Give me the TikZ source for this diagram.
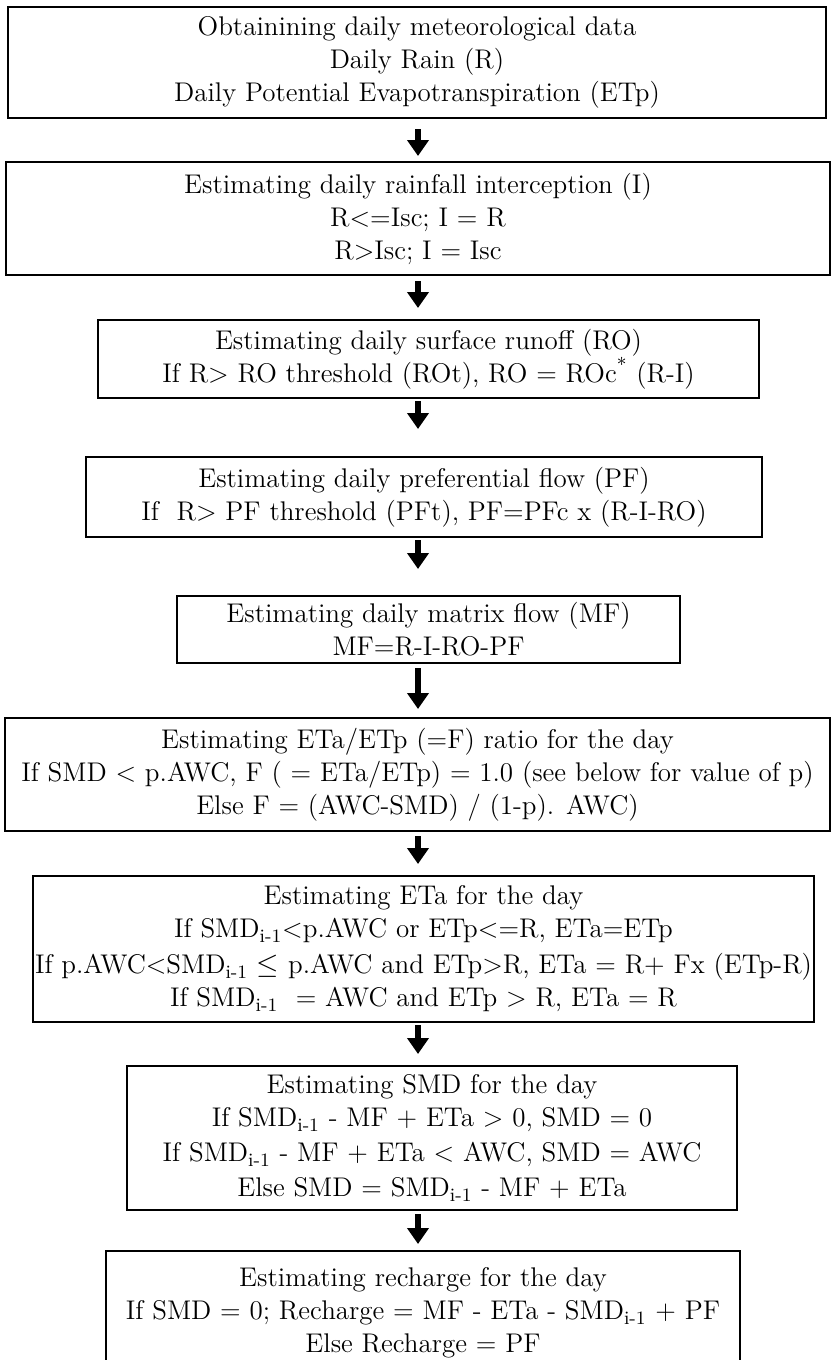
\documentclass[tikz,border=0pt]{standalone}
\usepackage{amsmath}
\usepackage{tikz}
\usetikzlibrary{arrows.meta}
\newcommand{\SMDprev}{SMD\textsubscript{i-1}}

\begin{document}
\begin{tikzpicture}[x=0.5pt, y=-0.5pt,
    stage/.style={draw, line width=1pt, align=center, inner sep=0pt,
      font=\fontsize{13.5}{16.5}\selectfont},
    flow/.style={-{Triangle[width=10.5pt,length=8pt]}, line width=3pt}]
  \useasboundingbox (0,0) rectangle (832,1360);
  \clip (0,0) rectangle (832,1360);
  \coordinate (spine) at (418,0);

  \node[stage, minimum width=409pt, minimum height=55.5pt]
    (obtain) at (417,62.5) {Obtainining daily meteorological data\\Daily Rain (R)\\Daily Potential Evapotranspiration (ETp)};

  \node[stage, minimum width=412pt, minimum height=56.5pt]
    (intercept) at (418,218.5) {Estimating daily rainfall interception (I)\\R<=Isc; I = R\\R>Isc; I = Isc};

  \node[stage, minimum width=330.5pt, minimum height=39pt]
    (runoff) at (428.5,359) {Estimating daily surface runoff (RO)\\If R> RO threshold (ROt), RO = ROc\textsuperscript{*} (R-I)};

  \node[stage, minimum width=338pt, minimum height=40pt]
    (prefflow) at (424,497) {Estimating daily preferential flow (PF)\\If~ R> PF threshold (PFt), PF=PFc x (R-I-RO)};

  \node[stage, minimum width=251.5pt, minimum height=33.5pt]
    (matrixflow) at (428.5,629.5) {Estimating daily matrix flow (MF)\\MF=R-I-RO-PF};

  \node[stage, minimum width=412.5pt, minimum height=56.5pt]
    (ratio) at (417.5,774.5) {Estimating ETa/ETp (=F) ratio for the day\\If SMD < p.AWC, F ( = ETa/ETp) = 1.0 (see below for value of p)\\Else F = (AWC-SMD) / (1-p). AWC)};

  \node[stage, minimum width=390.5pt, minimum height=73pt]
    (eta) at (423.5,949) {Estimating ETa for the day\\If \SMDprev<p.AWC or ETp<=R, ETa=ETp\\[1.5pt]If p.AWC<\SMDprev{} $\leq$ p.AWC and ETp>R, ETa = R+ Fx (ETp-R)\\If \SMDprev{}~ = AWC and ETp > R, ETa = R};

  \node[stage, minimum width=305pt, minimum height=72pt]
    (smd) at (432,1138) {Estimating SMD for the day\\If \SMDprev{} - MF + ETa > 0, SMD = 0\\[1pt]If \SMDprev{} - MF + ETa < AWC, SMD = AWC\\[1pt]Else SMD = \SMDprev{} - MF + ETa};

  \node[stage, minimum width=317pt, minimum height=62pt]
    (recharge) at (423,1313) {Estimating recharge for the day\\If SMD = 0; Recharge = MF - ETa - \SMDprev{} + PF\\Else Recharge = PF};

  \path[flow] (obtain.south -| spine) edge[shorten <=5pt, shorten >=2.5pt] (intercept.north -| spine)
              (intercept.south -| spine) edge[shorten <=2.5pt, shorten >=5.5pt] (runoff.north -| spine)
              (runoff.south -| spine) edge[shorten <=1pt, shorten >=13.5pt] (prefflow.north -| spine)
              (prefflow.south -| spine) edge[shorten <=1pt, shorten >=13pt] (matrixflow.north -| spine)
              (matrixflow.south -| spine) edge[shorten <=2pt, shorten >=4pt] (ratio.north -| spine)
              (ratio.south -| spine) edge[shorten <=2pt, shorten >=5.5pt] (eta.north -| spine)
              (eta.south -| spine) edge[shorten <=1pt, shorten >=5.5pt] (smd.north -| spine)
              (smd.south -| spine) edge[shorten <=1.5pt, shorten >=3pt] (recharge.north -| spine);

\end{tikzpicture}
\end{document}
